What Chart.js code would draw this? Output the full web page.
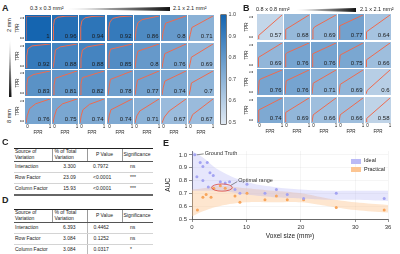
<!DOCTYPE html>
<html>
<head>
<meta charset="utf-8">
<script src="https://cdn.jsdelivr.net/npm/chart.js@4.4.0/dist/chart.umd.min.js"></script>
<style>
  body { margin: 0; width: 400px; height: 254px; position: relative; overflow: hidden; background: #fff;
         font-family: "Liberation Sans", Arial, sans-serif; color: #222; }
  .abs { position: absolute; }
  .t { position: absolute; white-space: nowrap; line-height: 1; }
  .tbl { position: absolute; left: 14px; width: 139px; border-collapse: collapse; font-size: 5px; line-height: 1.15; table-layout: fixed; }
  .tbl th { font-weight: normal; text-align: left; border-top: 1.4px solid #222; border-bottom: 0.7px solid #555; padding: 0 1px; vertical-align: middle; }
  .tbl th + th { border-left: 0.7px solid #999; }
  .tbl td { height: 10px; padding: 0 1px; border-bottom: 0.5px solid #d4d4d4; vertical-align: middle; }
  .tbl tr:last-child td { border-bottom: 2px solid #666; }
  .tbl .c2 { text-align: center; }
  .tbl .c3 { padding-left: 6px; }
  .tbl .c4 { padding-left: 8px; }
  .tblD td.c3 { border-left: 1.5px solid #bbb; }
</style>
</head>
<body>
<script>
Chart.defaults.font.family = '"Liberation Sans", Arial, sans-serif';
Chart.defaults.animation = false;

// ---- panel A: AUC per cell, rows 2 mm -> 8 mm, cols 0.3 -> 2.1 mm in-plane
const aucA = [
  [1, 0.96, 0.94, 0.92, 0.86, 0.8, 0.71],
  [0.92, 0.88, 0.88, 0.85, 0.8, 0.76, 0.69],
  [0.83, 0.81, 0.82, 0.78, 0.77, 0.74, 0.7],
  [0.76, 0.75, 0.74, 0.74, 0.71, 0.67, 0.67]
];
const rocA = [
  [
    [[0,0],[0,1],[1,1]],
    [[0,0],[0.02,0.6],[0.06,0.85],[0.2,0.95],[0.5,0.99],[1,1]],
    [[0,0],[0.03,0.55],[0.08,0.8],[0.2,0.92],[0.5,0.98],[1,1]],
    [[0,0],[0.03,0.5],[0.08,0.75],[0.2,0.9],[0.5,0.97],[1,1]],
    [[0,0],[0.05,0.45],[0.12,0.72],[0.3,0.85],[1,1]],
    [[0,0],[0.05,0.35],[0.15,0.7],[1,1]],
    [[0,0],[0.05,0.22],[0.12,0.52],[1,1]]
  ],
  [
    [[0,0],[0.03,0.5],[0.08,0.8],[0.25,0.92],[1,1]],
    [[0,0],[0.05,0.3],[0.1,0.75],[0.3,0.88],[1,1]],
    [[0,0],[0.04,0.4],[0.1,0.75],[0.3,0.88],[1,1]],
    [[0,0],[0.04,0.5],[0.1,0.78],[1,1]],
    [[0,0],[0.05,0.4],[0.12,0.7],[1,1]],
    [[0,0],[0.05,0.3],[0.12,0.6],[1,1]],
    [[0,0],[0.05,0.2],[0.1,0.45],[1,1]]
  ],
  [
    [[0,0],[0.03,0.4],[0.08,0.72],[0.3,0.85],[1,1]],
    [[0,0],[0.04,0.4],[0.1,0.7],[1,1]],
    [[0,0],[0.04,0.45],[0.1,0.72],[1,1]],
    [[0,0],[0.05,0.35],[0.1,0.65],[1,1]],
    [[0,0],[0.05,0.3],[0.1,0.62],[1,1]],
    [[0,0],[0.05,0.3],[0.12,0.58],[1,1]],
    [[0,0],[0.05,0.2],[0.1,0.5],[1,1]]
  ],
  [
    [[0,0],[0.05,0.3],[0.15,0.6],[0.4,0.8],[1,1]],
    [[0,0],[0.05,0.25],[0.15,0.58],[0.4,0.8],[1,1]],
    [[0,0],[0.05,0.3],[0.12,0.55],[0.4,0.78],[1,1]],
    [[0,0],[0.05,0.3],[0.12,0.55],[1,1]],
    [[0,0],[0.08,0.3],[0.2,0.5],[1,1]],
    [[0,0],[0.1,0.25],[0.3,0.5],[1,1]],
    [[0,0],[0.05,0.1],[0.15,0.35],[1,1]]
  ]
];

// ---- panel B: 0.8 -> 2.1 mm in-plane
const aucB = [
  [0.57, 0.68, 0.69, 0.77, 0.64],
  [0.69, 0.76, 0.76, 0.75, 0.66],
  [0.76, 0.76, 0.71, 0.69, 0.6],
  [0.74, 0.69, 0.66, 0.66, 0.58]
];
const rocB = [
  [
    [[0,0],[0.03,0.15],[1,1]],
    [[0,0],[0.03,0.4],[1,1]],
    [[0,0],[0.04,0.4],[0.1,0.5],[1,1]],
    [[0,0],[0.03,0.55],[1,1]],
    [[0,0],[0.02,0.3],[1,1]]
  ],
  [
    [[0,0],[0.02,0.4],[1,1]],
    [[0,0],[0.03,0.55],[0.1,0.6],[1,1]],
    [[0,0],[0.03,0.55],[1,1]],
    [[0,0],[0.05,0.5],[1,1]],
    [[0,0],[0.02,0.3],[1,1]]
  ],
  [
    [[0,0],[0.05,0.55],[0.1,0.62],[1,1]],
    [[0,0],[0.05,0.55],[1,1]],
    [[0,0],[0.05,0.45],[1,1]],
    [[0,0],[0.05,0.4],[1,1]],
    [[0,0],[0.05,0.15],[1,1]]
  ],
  [
    [[0,0],[0.03,0.5],[1,1]],
    [[0,0],[0.03,0.4],[1,1]],
    [[0,0],[0.05,0.3],[1,1]],
    [[0,0],[0.05,0.3],[1,1]],
    [[0,0],[0.03,0.15],[1,1]]
  ]
];
const cbTicks = [1.0, 0.9, 0.8, 0.7, 0.6, 0.5];

// ---- tables C and D
const tblHead = ['Source of\nVariation', '% of Total\nVariation', 'P Value', 'Significance'];
const sources = ['Interaction', 'Row Factor', 'Column Factor'];
const pctC = ['3.300', '23.09', '15.93'];
const pvalC = ['0.7972', '<0.0001', '<0.0001'];
const sigC = ['ns', '***', '***'];
const pctD = ['6.393', '3.084', '3.084'];
const pvalD = ['0.4462', '0.1252', '0.0317'];
const sigD = ['ns', 'ns', '*'];

// ---- panel E
const idealX   = [0.5, 0.9, 1.5, 2.0, 2.0, 2.8, 3.0, 3.3, 3.9, 5.2, 6.1, 6.9, 7.9, 8.8, 10.1, 13.4, 15.5, 17.5, 20.5, 26.5, 35.3];
const idealAUC = [1.0, 0.83, 0.94, 0.91, 0.80, 0.94, 0.75, 0.86, 0.84, 0.79, 0.78, 0.79, 0.73, 0.70, 0.77, 0.70, 0.73, 0.69, 0.66, 0.70, 0.66];
const practX   = [1.0, 2.0, 2.6, 3.5, 4.0, 5.2, 6.1, 7.9, 8.8, 10.1, 13.4, 15.5, 17.5, 20.5, 26.5, 35.3];
const practAUC = [0.57, 0.67, 0.69, 0.67, 0.74, 0.76, 0.74, 0.68, 0.63, 0.70, 0.65, 0.68, 0.65, 0.65, 0.59, 0.57];
const bandX        = [0, 2, 5, 10, 15, 20, 25, 30, 36];
const idealUpper   = [1.03, 0.98, 0.88, 0.79, 0.75, 0.73, 0.72, 0.72, 0.72];
const idealLower   = [0.72, 0.72, 0.72, 0.69, 0.67, 0.66, 0.65, 0.65, 0.64];
const practUpper   = [0.73, 0.74, 0.76, 0.74, 0.72, 0.70, 0.66, 0.63, 0.61];
const practLower   = [0.52, 0.56, 0.60, 0.63, 0.63, 0.63, 0.60, 0.57, 0.55];
const xTicksE = [0, 10, 20, 30, 36];
const yTicksE = [0.5, 0.6, 0.7, 0.8, 0.9, 1.0];

// ---------- helpers
function cmap(v) {
  const t = (v - 0.5) / 0.5;
  const lo = [223, 232, 242], hi = [21, 101, 176];
  return 'rgb(' + lo.map((c, i) => Math.round(c + (hi[i] - c) * t)).join(',') + ')';
}

function txt(s, x, y, size, o = {}) {
  const d = document.createElement('div');
  d.className = 't';
  d.textContent = s;
  d.style.left = x + 'px';
  d.style.top = y + 'px';
  d.style.fontSize = size + 'px';
  const ax = o.align === 'center' ? '-50%' : o.align === 'right' ? '-100%' : '0';
  d.style.transform = o.rot ? 'translate(-50%,-50%) rotate(-90deg)' : `translate(${ax},-50%)`;
  if (o.bold) d.style.fontWeight = 'bold';
  if (o.color) d.style.color = o.color;
  document.body.appendChild(d);
}

function wedge(x, y, w, h, vertical) {
  const d = document.createElement('div');
  d.className = 'abs';
  Object.assign(d.style, { left: x + 'px', top: y + 'px', width: w + 'px', height: h + 'px' });
  if (vertical) {
    d.style.background = 'linear-gradient(to bottom,#fff,#111)';
    d.style.clipPath = 'polygon(40% 0,60% 0,100% 100%,0 100%)';
  } else {
    d.style.background = 'linear-gradient(to right,#fff,#111)';
    d.style.clipPath = 'polygon(0 42%,100% 0,100% 100%,0 58%)';
  }
  document.body.appendChild(d);
}

const cellPlugin = {
  id: 'cell',
  beforeDraw(chart, args, o) {
    const c = chart.ctx;
    c.save();
    c.fillStyle = o.color;
    c.fillRect(0, 0, chart.width, chart.height);
    c.restore();
  },
  afterDraw(chart, args, o) {
    const c = chart.ctx;
    c.save();
    c.font = '6px "Liberation Sans", Arial';
    c.fillStyle = '#1b1b1b';
    c.textAlign = 'right';
    c.textBaseline = 'alphabetic';
    c.fillText(o.label, chart.width - 1.5, chart.height - 3);
    c.restore();
  }
};

function cell(x, y, w, h, auc, pts) {
  const cv = document.createElement('canvas');
  cv.width = w; cv.height = h;
  cv.style.cssText = `position:absolute;left:${x}px;top:${y}px;width:${w}px;height:${h}px`;
  document.body.appendChild(cv);
  new Chart(cv, {
    type: 'scatter',
    data: { datasets: [{
      data: pts.map(p => ({ x: p[0], y: p[1] })),
      showLine: true, borderColor: '#ef6a4e', borderWidth: 1, pointRadius: 0, tension: 0
    }] },
    options: {
      responsive: false, events: [],
      layout: { padding: 1 },
      plugins: { legend: { display: false }, tooltip: { enabled: false },
                 cell: { color: cmap(auc), label: String(auc) } },
      scales: { x: { display: false, min: 0, max: 1 }, y: { display: false, min: 0, max: 1 } }
    },
    plugins: [cellPlugin]
  });
}

function grid(auc, roc, left0, dx, top0, dy, tprX) {
  const w = 26, h = 26;
  auc.forEach((row, r) => {
    const top = top0 + Math.round(r * dy);
    row.forEach((v, c) => cell(left0 + Math.round(c * dx), top, w, h, v, roc[r][c]));
    txt('TPR', tprX, top + 13, 4.5, { rot: true });
    txt('1', tprX + 4.5, top + 3, 4.5, { rot: true });
    txt('0', tprX + 4.5, top + h - 3, 4.5, { rot: true });
  });
  const yb = top0 + Math.round((auc.length - 1) * dy) + h;
  auc[0].forEach((v, c) => {
    const left = left0 + Math.round(c * dx);
    txt('0', left + 2.5, yb + 3, 4.5, { align: 'center' });
    txt('1', left + w - 1, yb + 3, 4.5, { align: 'center' });
    txt('FPR', left + w / 2, yb + 8.5, 4.5, { align: 'center' });
  });
}

// ---------- panel A
txt('A', 2, 8, 9, { bold: true });
txt('0.3 x 0.3 mm²', 30, 9, 5.5);
wedge(67, 7, 103, 4, false);
txt('2.1 x 2.1 mm²', 173, 9, 5.5);
txt('2 mm', 10, 25, 5.5, { rot: true });
wedge(8.5, 40, 3, 57, true);
txt('8 mm', 10, 116, 5.5, { rot: true });
grid(aucA, rocA, 25, 27.2, 15, 27.6, 18);

// colour bar
const cb = document.createElement('div');
cb.className = 'abs';
Object.assign(cb.style, { left: '220px', top: '14px', width: '5px', height: '109px',
  border: '0.8px solid #777', borderRadius: '1px',
  background: `linear-gradient(to bottom, ${cmap(1)}, ${cmap(0.75)}, ${cmap(0.5)})` });
document.body.appendChild(cb);
cbTicks.forEach(v => txt(v.toFixed(1), 228.5, 15 + (1 - v) / 0.5 * 108, 5.5, { color: '#444' }));

// ---------- panel B
txt('B', 243, 8, 9, { bold: true });
txt('0.8 x 0.8 mm²', 256, 10, 5.5);
wedge(296, 8, 60, 4, false);
txt('2.1 x 2.1 mm²', 360, 10, 5.5);
grid(aucB, rocB, 257, 27, 14, 27.7, 247);

// ---------- tables C and D
function table(top, pct, pval, sig, extraClass, headH) {
  const t = document.createElement('table');
  t.className = 'tbl ' + extraClass;
  t.style.top = top + 'px';
  const cg = document.createElement('colgroup');
  [38, 35, 35, 31].forEach(w => { const c = document.createElement('col'); c.style.width = w + 'px'; cg.appendChild(c); });
  t.appendChild(cg);
  const hr = document.createElement('tr');
  tblHead.forEach((s, i) => {
    const th = document.createElement('th');
    th.style.height = headH + 'px';
    th.style.whiteSpace = 'pre';
    if (i === 1) th.style.paddingLeft = '2px';
    if (i === 2) th.style.textAlign = 'center';
    th.textContent = s;
    hr.appendChild(th);
  });
  t.appendChild(hr);
  sources.forEach((s, r) => {
    const tr = document.createElement('tr');
    [s, pct[r], pval[r], sig[r]].forEach((v, i) => {
      const td = document.createElement('td');
      td.className = 'c' + (i + 1);
      td.textContent = v;
      tr.appendChild(td);
    });
    t.appendChild(tr);
  });
  document.body.appendChild(t);
}
txt('C', 2, 142, 9, { bold: true });
table(148, pctC, pvalC, sigC, 'tblC', 12);
txt('D', 2, 200, 9, { bold: true });
table(209, pctD, pvalD, sigD, 'tblD', 11);

// ---------- panel E
txt('E', 163, 143, 9, { bold: true });

const annot = {
  id: 'annot',
  afterDatasetsDraw(chart, args, o) {
    const { ctx, scales: { x, y } } = chart;
    ctx.save();
    ctx.font = '5.5px "Liberation Sans", Arial';
    ctx.fillStyle = '#333';
    ctx.strokeStyle = '#444';
    ctx.lineWidth = 0.6;
    ctx.textBaseline = 'middle';
    // ground truth label
    const gx = x.getPixelForValue(o.gt[0]), gy = y.getPixelForValue(o.gt[1]);
    ctx.beginPath(); ctx.moveTo(gx + 2, gy); ctx.lineTo(gx + 9, gy - 1); ctx.stroke();
    ctx.fillText('Ground Truth', gx + 10, gy - 1.5);
    // optimal range ellipse
    const e = o.ellipse;
    const cx = x.getPixelForValue(e.x), cy = y.getPixelForValue(e.y);
    const rx = Math.abs(x.getPixelForValue(e.x + e.rx) - cx);
    const ry = Math.abs(y.getPixelForValue(e.y + e.ry) - cy);
    ctx.strokeStyle = '#d9433c';
    ctx.lineWidth = 0.8;
    ctx.beginPath(); ctx.ellipse(cx, cy, rx, ry, 0, 0, Math.PI * 2); ctx.stroke();
    ctx.strokeStyle = '#444';
    ctx.lineWidth = 0.6;
    ctx.beginPath(); ctx.moveTo(cx + rx * 0.85, cy - ry * 0.6); ctx.lineTo(cx + rx + 5, cy - 6); ctx.stroke();
    ctx.fillText('Optimal range', cx + rx + 6, cy - 7);
    ctx.restore();
  }
};

const cvE = document.createElement('canvas');
cvE.width = 240; cvE.height = 104;
cvE.style.cssText = 'position:absolute;left:160px;top:140px;width:240px;height:104px';
document.body.appendChild(cvE);

const pts = (xs, ys) => xs.map((v, i) => ({ x: v, y: ys[i] }));
const band = (ys, fill, color) => ({
  data: pts(bandX, ys), showLine: true, pointRadius: 0, borderWidth: 0,
  tension: 0.4, fill: fill, backgroundColor: color
});

new Chart(cvE, {
  type: 'scatter',
  data: { datasets: [
    { label: 'Ideal', data: pts(idealX, idealAUC), pointRadius: 1.5, pointBackgroundColor: '#a3a3f2', pointBorderWidth: 0 },
    { label: 'Practical', data: pts(practX, practAUC), pointRadius: 1.5, pointBackgroundColor: '#f8a55b', pointBorderWidth: 0 },
    band(idealUpper, '+1', 'rgba(165,165,245,0.28)'),
    band(idealLower, false, 'transparent'),
    band(practUpper, '+1', 'rgba(252,196,140,0.42)'),
    band(practLower, false, 'transparent')
  ] },
  options: {
    responsive: false, events: [],
    layout: { padding: { left: 0, top: 11, right: 12, bottom: 0 } },
    plugins: {
      legend: { display: false }, tooltip: { enabled: false },
      annot: { gt: [0.5, 1.0], ellipse: { x: 5.5, y: 0.745, rx: 1.9, ry: 0.028 } }
    },
    scales: {
      x: {
        type: 'linear', min: 0, max: 36,
        afterBuildTicks: s => { s.ticks = xTicksE.map(v => ({ value: v })); },
        afterFit: s => { s.height = 25; },
        ticks: { font: { size: 6 }, color: '#333', padding: 2, maxRotation: 0 },
        grid: { color: 'rgba(0,0,0,0.07)', tickColor: '#444', tickLength: 3, lineWidth: 0.6 },
        border: { color: '#444', width: 0.8 },
        title: { display: true, text: 'Voxel size (mm³)', font: { size: 6.5 }, color: '#222', padding: { top: 2, bottom: 4 } }
      },
      y: {
        min: 0.5, max: 1.03,
        afterBuildTicks: s => { s.ticks = yTicksE.map(v => ({ value: v })); },
        afterFit: s => { s.width = 32; },
        ticks: { font: { size: 6 }, color: '#333', padding: 2, callback: v => v.toFixed(1) },
        grid: { color: 'rgba(0,0,0,0.07)', tickColor: '#444', tickLength: 3, lineWidth: 0.6 },
        border: { color: '#444', width: 0.8 },
        title: { display: true, text: 'AUC', font: { size: 6.5 }, color: '#222', padding: { top: 4, bottom: 2 } }
      }
    }
  },
  plugins: [annot]
});

// legend for E
[['Ideal', '#babaf6', 161], ['Practical', '#fcc592', 169.5]].forEach(([name, col, y]) => {
  const sw = document.createElement('div');
  sw.className = 'abs';
  Object.assign(sw.style, { left: '351px', top: (y - 2.5) + 'px', width: '10px', height: '5px', background: col });
  document.body.appendChild(sw);
  txt(name, 364, y, 5.5);
});
</script>
</body>
</html>
